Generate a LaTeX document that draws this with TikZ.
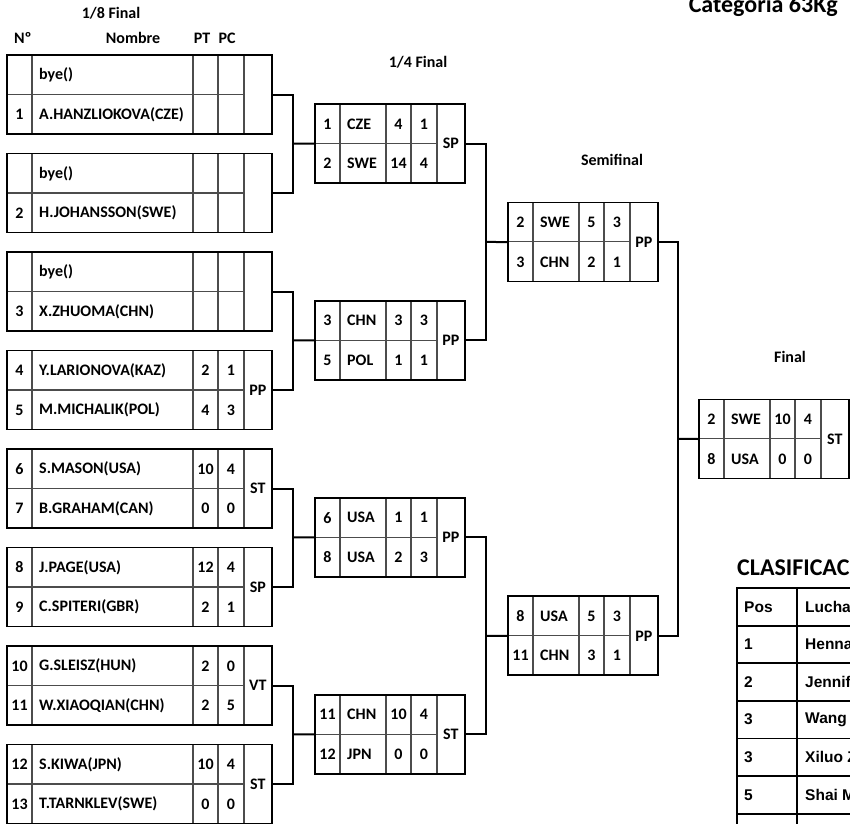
\documentclass[tikz,border=0pt]{standalone}
\usepackage{fontspec}
\setmainfont{Carlito}
\newfontfamily\arialf{Liberation Sans}
\tikzset{
  boxframe/.style={rectangle, inner sep=0pt, minimum height=79pt},
  rescell/.style={rectangle, inner sep=0pt, minimum width=28pt, minimum height=79pt},
  outerline/.style={draw=black, line width=1.6pt},
  innerline/.style={draw=black!70, line width=1.1pt},
  conn/.style={draw=black, line width=2pt},
  numtxt/.style={inner sep=0pt, anchor=center},
  nametxt/.style={inner sep=0pt, anchor=west},
  valtxt/.style={inner sep=0pt, anchor=center},
  headtxt/.style={inner sep=0pt, anchor=center},
  bigtxt/.style={inner sep=0pt, font=\bfseries\fontsize{24}{28}\selectfont},
  tabline/.style={draw=black, line width=1.8pt},
  tabtxt/.style={inner sep=0pt, anchor=west, font=\arialf\bfseries\fontsize{15.5}{18}\selectfont}
}
\def\putrow#1/#2/#3/#4\relax{%
  \node[numtxt] (\curid\rk n) at (12.5,\ry) {#1};
  \node[nametxt] (\curid\rk m) at (32,\ry) {#2};
  \node[valtxt] (\curid\rk p) at (\xptc,\ry) {#3};
  \node[valtxt] (\curid\rk c) at (\xpcc,\ry) {#4};}
\newcommand\bout[7]{%
 \begin{scope}[shift={(#2,#3)}]
  \pgfmathsetmacro\xB{25+#4}%
  \pgfmathsetmacro\xC{50+#4}%
  \pgfmathsetmacro\xD{76+#4}%
  \pgfmathsetmacro\xE{104+#4}%
  \pgfmathsetmacro\xptc{37.5+#4}%
  \pgfmathsetmacro\xpcc{63+#4}%
  \node[boxframe, minimum width=\xE pt, anchor=north west] (#1) at (0,0) {};
  \node[rescell, anchor=north east] (#1r) at (\xE,0) {#7};
  \draw[innerline] (25,0)--(25,79) (\xB,0)--(\xB,79) (\xC,0)--(\xC,79) (\xD,0)--(\xD,79) (0,39.5)--(\xD,39.5);
  \draw[outerline] (0,0) rectangle (\xE,79);
  \def\curid{#1}\def\ry{20}\def\rk{a}\putrow#5\relax
  \def\ry{59.5}\def\rk{b}\putrow#6\relax
 \end{scope}}
\begin{document}
\begin{tikzpicture}[x=1pt,y=-1pt, font=\bfseries\fontsize{16}{19}\selectfont]
\useasboundingbox (0,0) rectangle (850,823);
\clip (0,0) rectangle (850,823);

% headers
\node[headtxt] (h18) at (111,13) {1/8 Final};
\node[headtxt, anchor=west] (hno) at (14,38) {Nº};
\node[headtxt] (hnom) at (133,38) {Nombre};
\node[headtxt] (hpt) at (202,38) {PT};
\node[headtxt] (hpc) at (227,38) {PC};
\node[headtxt] (h14) at (418,62) {1/4 Final};
\node[headtxt] (hsf) at (612,160) {Semifinal};
\node[headtxt] (hfi) at (790,357) {Final};
\node[bigtxt, anchor=base east] (title) at (838,12) {Categoria 63Kg};

% 1/8 final
\bout{ea}{7}{55}{161}{/bye()//}{1/A.HANZLIOKOVA(CZE)//}{}
\bout{eb}{7}{153.5}{161}{/bye()//}{2/H.JOHANSSON(SWE)//}{}
\bout{ec}{7}{252}{161}{/bye()//}{3/X.ZHUOMA(CHN)//}{}
\bout{ed}{7}{350.5}{161}{4/Y.LARIONOVA(KAZ)/2/1}{5/M.MICHALIK(POL)/4/3}{PP}
\bout{ee}{7}{449}{161}{6/S.MASON(USA)/10/4}{7/B.GRAHAM(CAN)/0/0}{ST}
\bout{ef}{7}{547.5}{161}{8/J.PAGE(USA)/12/4}{9/C.SPITERI(GBR)/2/1}{SP}
\bout{eg}{7}{646}{161}{10/G.SLEISZ(HUN)/2/0}{11/W.XIAOQIAN(CHN)/2/5}{VT}
\bout{eh}{7}{744.5}{161}{12/S.KIWA(JPN)/10/4}{13/T.TARNKLEV(SWE)/0/0}{ST}

% 1/4 final
\bout{qa}{315}{104}{46}{1/CZE/4/1}{2/SWE/14/4}{SP}
\bout{qb}{315}{300.75}{46}{3/CHN/3/3}{5/POL/1/1}{PP}
\bout{qc}{315}{497.75}{46}{6/USA/1/1}{8/USA/2/3}{PP}
\bout{qd}{315}{694.75}{46}{11/CHN/10/4}{12/JPN/0/0}{ST}

% semifinal
\bout{sa}{508}{202.4}{46}{2/SWE/5/3}{3/CHN/2/1}{PP}
\bout{sb}{508}{596.25}{46}{8/USA/5/3}{11/CHN/3/1}{PP}

% final
\bout{fa}{699}{399.3}{46}{2/SWE/10/4}{8/USA/0/0}{ST}

% junctions
\coordinate (ja) at (293,143.5);
\coordinate (jb) at (293,340.25);
\coordinate (jc) at (293,537.25);
\coordinate (jd) at (293,734.25);
\coordinate (ka) at (486,241.9);
\coordinate (kb) at (486,635.75);
\coordinate (ma) at (678,438.8);

\draw[conn] (ear.east) -| (ja) |- (ebr.east);
\draw[conn] (ja) -- (qa.west);
\draw[conn] (ecr.east) -| (jb) |- (edr.east);
\draw[conn] (jb) -- (qb.west);
\draw[conn] (eer.east) -| (jc) |- (efr.east);
\draw[conn] (jc) -- (qc.west);
\draw[conn] (egr.east) -| (jd) |- (ehr.east);
\draw[conn] (jd) -- (qd.west);
\draw[conn] (qar.east) -| (ka) |- (qbr.east);
\draw[conn] (ka) -- (sa.west);
\draw[conn] (qcr.east) -| (kb) |- (qdr.east);
\draw[conn] (kb) -- (sb.west);
\draw[conn] (sar.east) -| (ma) |- (sbr.east);
\draw[conn] (ma) -- (fa.west);

% classification
\node[bigtxt, anchor=base west] (clas) at (737,575) {CLASIFICAC};
\foreach \yy in {588,625.6,663.2,700.8,738.4,776,813.6}
  \draw[tabline] (737,\yy) -- (860,\yy);
\draw[tabline] (737,587.1) -- (737,830);
\draw[tabline] (797,587.1) -- (797,830);
\node[tabtxt] (t0a) at (744,606.8) {Pos};
\node[tabtxt] (t0b) at (805,606.8) {Lucha};
\node[tabtxt] (t1a) at (744,644.4) {1};
\node[tabtxt] (t1b) at (805,644.4) {Henna};
\node[tabtxt] (t2a) at (744,682) {2};
\node[tabtxt] (t2b) at (805,682) {Jennif};
\node[tabtxt] (t3a) at (744,719.6) {3};
\node[tabtxt] (t3b) at (805,719.6) {Wang};
\node[tabtxt] (t4a) at (744,757.2) {3};
\node[tabtxt] (t4b) at (805,757.2) {Xiluo Z};
\node[tabtxt] (t5a) at (744,794.8) {5};
\node[tabtxt] (t5b) at (805,794.8) {Shai M};
\end{tikzpicture}
\end{document}
